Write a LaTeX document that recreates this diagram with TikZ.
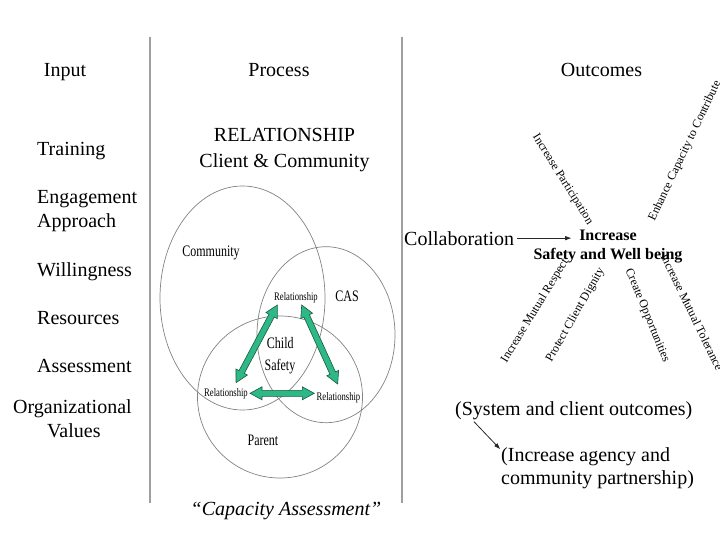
\documentclass[tikz,border=0pt]{standalone}
\usepackage{fontspec}
\setmainfont{Liberation Serif}
\newfontfamily\vennfont[FakeStretch=0.75]{Liberation Serif}
\usetikzlibrary{arrows.meta,calc}
\tikzset{
  big/.style={font=\fontsize{20}{24}\selectfont, inner sep=0pt},
  lab/.style={font=\fontsize{12}{14}\selectfont, inner sep=0pt},
  venn/.style={font=\vennfont\fontsize{16}{18}\selectfont, inner sep=0pt},
  vsmall/.style={font=\vennfont\fontsize{11.5}{13}\selectfont, inner sep=0pt},
  boldlab/.style={font=\bfseries\fontsize{16}{19}\selectfont, inner sep=0pt},
  divider/.style={draw={rgb,255:red,160;green,160;blue,160}, line width=1.7pt},
  vennline/.style={draw={rgb,255:red,130;green,130;blue,130}, line width=0.7pt},
  thinarrow/.style={draw={rgb,255:red,40;green,40;blue,40}, line width=0.8pt, -{Triangle[length=6pt,width=4pt]}},
  garrow/.style={draw={rgb,255:red,25;green,90;blue,70}, fill={rgb,255:red,46;green,184;blue,134},
    line width=0.6pt, line join=miter},
}
\newcommand{\greenarrow}[2]{%
  \path let \p1=($(#2)-(#1)$) in \pgfextra{%
    \pgfmathsetmacro\garAng{atan2(\y1,\x1)}%
    \pgfmathsetmacro\garLen{veclen(\x1,\y1)}%
    \global\let\garAng\garAng\global\let\garLen\garLen};
  \filldraw[garrow, shift={(#1)}, rotate=\garAng]
    (0pt,0pt) -- (12pt,6.5pt) -- (12pt,3pt) -- ({(\garLen-12)*1pt},3pt)
    -- ({(\garLen-12)*1pt},6.5pt) -- ({\garLen*1pt},0pt)
    -- ({(\garLen-12)*1pt},-6.5pt) -- ({(\garLen-12)*1pt},-3pt)
    -- (12pt,-3pt) -- (12pt,-6.5pt) -- cycle;}
\begin{document}
\begin{tikzpicture}[x=1pt,y=-1pt]
\path[use as bounding box] (0,0) rectangle (720,540);
\clip (0,0) rectangle (720,540);

% dividers
\draw[divider] (150,37) -- (150,503);
\draw[divider] (402,37) -- (402,503);

% headings
\node[big, anchor=base] (input) at (65,76.7) {Input};
\node[big, anchor=base] (process) at (279,76.7) {Process};
\node[big, anchor=base] (outcomes) at (601.5,76.7) {Outcomes};

% inputs
\node[big, anchor=base west] (training) at (37,156) {Training};
\node[big, anchor=base west] (engage) at (37,204) {Engagement};
\node[big, anchor=base west] (approach) at (37,228) {Approach};
\node[big, anchor=base west] (willing) at (37,276) {Willingness};
\node[big, anchor=base west] (resources) at (37,324) {Resources};
\node[big, anchor=base west] (assess) at (37,372.5) {Assessment};
\node[big, anchor=base west] (org) at (13,413) {Organizational};
\node[big, anchor=base west] (values) at (47,437) {Values};

% process
\node[big, anchor=base] (rel1) at (284.5,141.7) {RELATIONSHIP};
\node[big, anchor=base] (rel2) at (284.5,167.7) {Client \& Community};

% Venn ellipses
\draw[vennline] (242.5,298) ellipse [x radius=82.5, y radius=112];
\draw[vennline] (326,334.7) ellipse [x radius=69, y radius=88];
\draw[vennline] (280,397) ellipse [x radius=82.5, y radius=81];

\node[venn, anchor=base] (community) at (211,256) {Community};
\node[venn, anchor=base] (cas) at (347,301.7) {CAS};
\node[venn, anchor=base] (child) at (280.3,348.3) {Child};
\node[venn, anchor=base] (safety) at (280,370.7) {Safety};
\node[venn, anchor=base] (parent) at (263,445.7) {Parent};
\node[vsmall, anchor=base] (reltop) at (296,300) {Relationship};
\node[vsmall, anchor=base] (relleft) at (226,396) {Relationship};
\node[vsmall, anchor=base] (relright) at (338.5,400) {Relationship};

% green double arrows
\coordinate (a1) at (277.3,305);
\coordinate (a2) at (236,382.7);
\coordinate (b1) at (301.7,305);
\coordinate (b2) at (337.7,384);
\coordinate (c1) at (250,393.3);
\coordinate (c2) at (314.3,393.3);
\greenarrow{a1}{a2}
\greenarrow{b1}{b2}
\greenarrow{c1}{c2}

\node[big, anchor=base] (capacity) at (286,515) {\itshape “Capacity Assessment”};

% outcomes
\node[big, anchor=base west] (collab) at (404,245) {Collaboration};
\node[boldlab, anchor=base] (incr) at (608,240.7) {Increase};
\node[boldlab, anchor=base] (safe) at (608,259.3) {Safety and Well being};
\draw[thinarrow, shorten <=3pt, shorten >=8pt] (collab.east) -- (collab.east -| incr.west);

\node[lab, rotate=-58] (partic) at (562.5,179.5) {Increase Participation};
\node[lab, rotate=64.6] (enhance) at (685,151) {Enhance Capacity to Contribute};
\node[lab, rotate=58.6] (respect) at (535,311) {Increase Mutual Respect};
\node[lab, rotate=60.2] (dignity) at (575.5,315) {Protect Client Dignity};
\node[lab, rotate=-67.7] (create) at (647,315.5) {Create Opportunities};
\node[lab, rotate=-64] (toler) at (692,312) {Increase Mutual Tolerance};

\node[big, anchor=base west] (sys) at (455,415) {(System and client outcomes)};
\node[big, anchor=base west] (agency) at (501,461.7) {(Increase agency and};
\node[big, anchor=base west] (partner) at (501,484) {community partnership)};
\coordinate (sysA) at (474,421.7);
\coordinate (agA) at (500,449);
\draw[thinarrow] (sysA) -- (agA);
\end{tikzpicture}
\end{document}
